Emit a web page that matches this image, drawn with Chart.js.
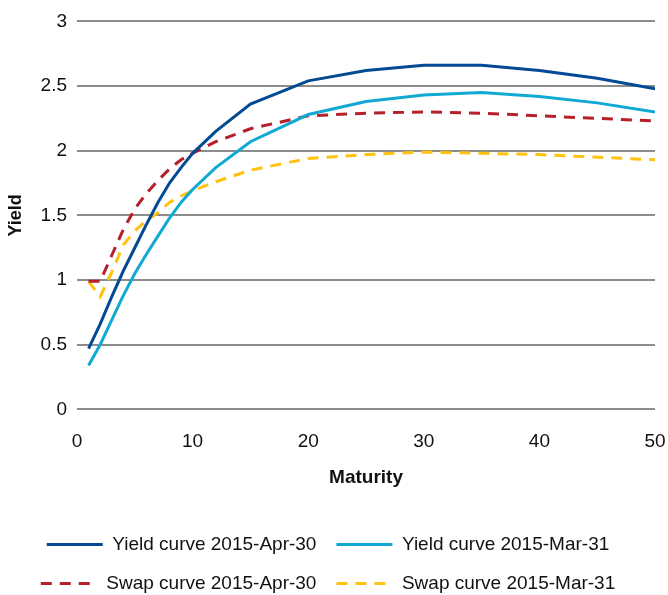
<!DOCTYPE html>
<html>
<head>
<meta charset="utf-8">
<script src="https://cdn.jsdelivr.net/npm/chart.js@4"></script>
<style>
  html, body { margin: 0; padding: 0; background: #fff; overflow: hidden; }
  #wrap { width: 668px; height: 595px; }
</style>
</head>
<body>
<div id="wrap"><canvas id="chart"></canvas></div>
<script>
// maturities (years) and yields
const maturities = [1, 2, 3, 4, 5, 6, 7, 8, 9, 10, 12, 15, 20, 25, 30, 35, 40, 45, 50];
const yieldApr = [0.47, 0.66, 0.87, 1.07, 1.25, 1.43, 1.60, 1.75, 1.87, 1.98, 2.15, 2.36, 2.54, 2.62, 2.66, 2.66, 2.62, 2.56, 2.48];
const yieldMar = [0.34, 0.50, 0.69, 0.88, 1.05, 1.20, 1.34, 1.48, 1.60, 1.70, 1.87, 2.07, 2.28, 2.38, 2.43, 2.45, 2.42, 2.37, 2.30];
const swapApr = [0.99, 0.99, 1.19, 1.39, 1.55, 1.67, 1.77, 1.86, 1.93, 1.98, 2.07, 2.17, 2.27, 2.29, 2.30, 2.29, 2.27, 2.25, 2.23];
const swapMar = [0.99, 0.87, 1.06, 1.27, 1.38, 1.46, 1.52, 1.60, 1.65, 1.69, 1.76, 1.85, 1.94, 1.97, 1.99, 1.98, 1.97, 1.95, 1.93];
const seriesNames = ["Yield curve 2015-Apr-30", "Yield curve 2015-Mar-31", "Swap curve 2015-Apr-30", "Swap curve 2015-Mar-31"];

const toPoints = (vals) => vals.map((v, i) => ({ x: maturities[i], y: v }));
const font = "'Liberation Sans', Arial, sans-serif";

const makeSet = (label, vals, color, dash) => ({
  label: label,
  data: toPoints(vals),
  borderColor: color,
  backgroundColor: color,
  borderWidth: 3,
  borderDash: dash,
  pointRadius: 0,
  tension: 0,
  fill: false,
});

// legend with point style "line" drops the dash, so put it back
const legendLabels = (chart) =>
  Chart.defaults.plugins.legend.labels.generateLabels(chart).map((item, i) => ({
    ...item,
    lineDash: chart.data.datasets[i].borderDash,
    strokeStyle: chart.data.datasets[i].borderColor,
    lineWidth: 3,
  }));

new Chart(document.getElementById("chart"), {
  type: "line",
  data: {
    datasets: [
      makeSet(seriesNames[0], yieldApr, "#034a94", []),
      makeSet(seriesNames[1], yieldMar, "#10a9d3", []),
      makeSet(seriesNames[2], swapApr, "#b5202b", [11, 8]),
      makeSet(seriesNames[3], swapMar, "#ffc20e", [11, 8]),
    ],
  },
  options: {
    responsive: true,
    maintainAspectRatio: false,
    animation: false,
    layout: { padding: { top: 12, right: 13, left: 1, bottom: -8 } },
    plugins: {
      tooltip: { enabled: false },
      legend: {
        position: "bottom",
        labels: {
          usePointStyle: true,
          pointStyle: "line",
          pointStyleWidth: 56,
          padding: 20,
          color: "#111",
          font: { family: font, size: 19 },
          generateLabels: legendLabels,
        },
      },
    },
    scales: {
      x: {
        type: "linear",
        min: 0,
        max: 50,
        afterFit: (s) => { s.paddingRight = 0; },
        ticks: { stepSize: 10, padding: 13, color: "#111", font: { family: font, size: 19 } },
        grid: { display: false },
        border: { display: false },
        title: { display: true, text: "Maturity", color: "#111", font: { family: font, size: 19, weight: "bold" }, padding: { top: 0, bottom: 26 } },
      },
      y: {
        min: 0,
        max: 3,
        ticks: { stepSize: 0.5, padding: 10, color: "#111", font: { family: font, size: 19 }, callback: (v) => String(v) },
        grid: { color: "#8c8c8c", lineWidth: 2, drawTicks: false },
        border: { display: false },
        title: { display: true, text: "Yield", color: "#111", font: { family: font, size: 18, weight: "bold" }, padding: { bottom: 4 } },
      },
    },
  },
});
</script>
</body>
</html>
